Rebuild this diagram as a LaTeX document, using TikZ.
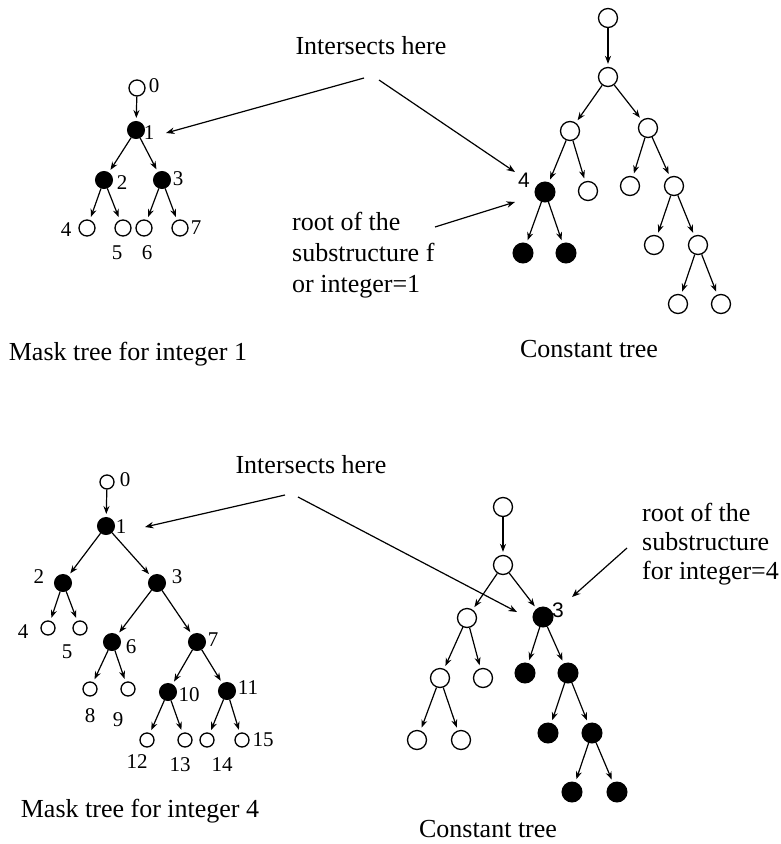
\documentclass[tikz,border=0pt]{standalone}
\usepackage{fontspec}
\setmainfont{Liberation Serif}
\newfontfamily\labsans{Liberation Sans}
\usetikzlibrary{arrows.meta}

\begin{document}
\begin{tikzpicture}[x=1pt,y=-1pt,
  wnode/.style={circle,draw,line width=1.3pt,fill=white,inner sep=0pt,minimum size=#1},
  bnode/.style={circle,draw,fill=black,line width=1pt,inner sep=0pt,minimum size=#1},
  treearrow/.style={line width=1.2pt,-{Stealth[length=8pt,width=6pt]},shorten >=3pt},
  pointer/.style={line width=1.2pt,-{Stealth[length=8.5pt,width=6.5pt]}},
  txt/.style={inner sep=0pt,font=\fontsize{26}{31}\selectfont},
  idx/.style={inner sep=0pt,font=\fontsize{21}{21}\selectfont},
  sidx/.style={inner sep=0pt,font=\labsans\fontsize{21}{21}\selectfont},
]
\useasboundingbox (0,0) rectangle (781,844);

% ---------- mask tree for integer 1 ----------
\node[wnode=16] (A0) at (137,88) {};
\node[bnode=17] (A1) at (136,130) {};
\node[bnode=17] (A2) at (104,180) {};
\node[bnode=17] (A3) at (162,180) {};
\node[wnode=16] (A4) at (87,228) {};
\node[wnode=16] (A5) at (123,228) {};
\node[wnode=16] (A6) at (144,228) {};
\node[wnode=16] (A7) at (180,228) {};
\foreach \a/\b in {A0/A1,A1/A2,A1/A3,A2/A4,A2/A5,A3/A6,A3/A7}
  \draw[treearrow] (\a) -- (\b);
\node[idx] (lA0) at (154,86) {0};
\node[idx] (lA1) at (149,133) {1};
\node[idx] (lA2) at (122,183) {2};
\node[idx] (lA3) at (178,179) {3};
\node[idx] (lA4) at (66,230) {4};
\node[idx] (lA5) at (117,253) {5};
\node[idx] (lA6) at (147,253) {6};
\node[idx] (lA7) at (196,228) {7};

% ---------- constant tree (top) ----------
\node[wnode=19] (C1) at (608,18) {};
\node[wnode=19] (C2) at (608,77) {};
\node[wnode=19] (C3) at (570,131) {};
\node[wnode=19] (C4) at (648,128) {};
\node[bnode=20] (C5) at (545,192) {};
\node[wnode=19] (C6) at (588,191) {};
\node[wnode=19] (C7) at (630,186) {};
\node[wnode=19] (C8) at (674,186) {};
\node[bnode=20] (C9) at (523,253) {};
\node[bnode=20] (C10) at (566,253) {};
\node[wnode=19] (C11) at (654,245) {};
\node[wnode=19] (C12) at (698,245) {};
\node[wnode=19] (C13) at (678,304) {};
\node[wnode=19] (C14) at (721,304) {};
\foreach \a/\b in {C1/C2,C2/C3,C2/C4,C3/C5,C3/C6,C4/C7,C4/C8,C5/C9,C5/C10,C8/C11,C8/C12,C12/C13,C12/C14}
  \draw[treearrow] (\a) -- (\b);
\node[sidx] (lC5) at (524,180) {4};

% ---------- top texts and pointers ----------
\node[txt,anchor=base] (int1) at (371,54) {Intersects here};
\node[txt,anchor=north west,align=left] (root1) at (292,212)
  {root of the\\substructure f\\or integer=1};
\node[txt,anchor=base] (mask1) at (128,360) {Mask tree for integer 1};
\node[txt,anchor=base] (const1) at (589,357) {Constant tree};

\coordinate (p1s) at (364,78);
\coordinate (p1e) at (166,133);
\coordinate (p2s) at (379,80);
\coordinate (p2e) at (515,172);
\coordinate (p3s) at (435,227);
\coordinate (p3e) at (515,202);
\draw[pointer] (p1s) -- (p1e);
\draw[pointer] (p2s) -- (p2e);
\draw[pointer] (p3s) -- (p3e);

% ---------- mask tree for integer 4 ----------
\node[wnode=14] (B0) at (107,482) {};
\node[bnode=17] (B1) at (106,526) {};
\node[bnode=17] (B2) at (63,583) {};
\node[bnode=17] (B3) at (157,583) {};
\node[wnode=14] (B4) at (48,628) {};
\node[wnode=14] (B5) at (80,628) {};
\node[bnode=17] (B6) at (112,642) {};
\node[bnode=17] (B7) at (197,642) {};
\node[wnode=14] (B8) at (90,689) {};
\node[wnode=14] (B9) at (128,689) {};
\node[bnode=17] (B10) at (168,692) {};
\node[bnode=17] (B11) at (227,691) {};
\node[wnode=14] (B12) at (147,740) {};
\node[wnode=14] (B13) at (185,740) {};
\node[wnode=14] (B14) at (207,740) {};
\node[wnode=14] (B15) at (242,740) {};
\foreach \a/\b in {B0/B1,B1/B2,B1/B3,B2/B4,B2/B5,B3/B6,B3/B7,B6/B8,B6/B9,B7/B10,B7/B11,B10/B12,B10/B13,B11/B14,B11/B15}
  \draw[treearrow] (\a) -- (\b);
\node[idx] (lB0) at (125,480) {0};
\node[idx] (lB1) at (121,527) {1};
\node[idx] (lB2) at (39,577) {2};
\node[idx] (lB3) at (177,577) {3};
\node[idx] (lB4) at (23,632) {4};
\node[idx] (lB5) at (67,652) {5};
\node[idx] (lB6) at (131,647) {6};
\node[idx] (lB7) at (213,640) {7};
\node[idx] (lB8) at (90,716) {8};
\node[idx] (lB9) at (118,720) {9};
\node[idx] (lB10) at (189,695) {10};
\node[idx] (lB11) at (248,688) {11};
\node[idx] (lB12) at (137,762) {12};
\node[idx] (lB13) at (180,765) {13};
\node[idx] (lB14) at (222,765) {14};
\node[idx] (lB15) at (263,740) {15};

% ---------- constant tree (bottom) ----------
\node[wnode=19] (D1) at (503,507) {};
\node[wnode=19] (D2) at (503,565) {};
\node[wnode=19] (D3) at (467,618) {};
\node[bnode=20] (D4) at (543,617) {};
\node[wnode=19] (D5) at (440,678) {};
\node[wnode=19] (D6) at (483,678) {};
\node[bnode=20] (D7) at (525,673) {};
\node[bnode=20] (D8) at (568,673) {};
\node[wnode=19] (D9) at (417,740) {};
\node[wnode=19] (D10) at (461,740) {};
\node[bnode=20] (D11) at (548,733) {};
\node[bnode=20] (D12) at (592,733) {};
\node[bnode=20] (D13) at (572,792) {};
\node[bnode=20] (D14) at (617,792) {};
\foreach \a/\b in {D1/D2,D2/D3,D2/D4,D3/D5,D3/D6,D5/D9,D5/D10,D4/D7,D4/D8,D8/D11,D8/D12,D12/D13,D12/D14}
  \draw[treearrow] (\a) -- (\b);
\node[sidx] (lD4) at (558,610) {3};

% ---------- bottom texts and pointers ----------
\node[txt,anchor=base] (int2) at (311,473) {Intersects here};
\node[txt,anchor=north west,align=left,font=\fontsize{26}{29}\selectfont] (root2) at (642,503)
  {root of the\\substructure\\for integer=4};
\node[txt,anchor=base] (mask2) at (140,817) {Mask tree for integer 4};
\node[txt,anchor=base] (const2) at (488,837) {Constant tree};

\coordinate (q1s) at (285,495);
\coordinate (q1e) at (145,527);
\coordinate (q2s) at (298,497);
\coordinate (q2e) at (517,612);
\coordinate (q3s) at (627,548);
\coordinate (q3e) at (572,597);
\draw[pointer] (q1s) -- (q1e);
\draw[pointer] (q2s) -- (q2e);
\draw[pointer] (q3s) -- (q3e);
\end{tikzpicture}
\end{document}
